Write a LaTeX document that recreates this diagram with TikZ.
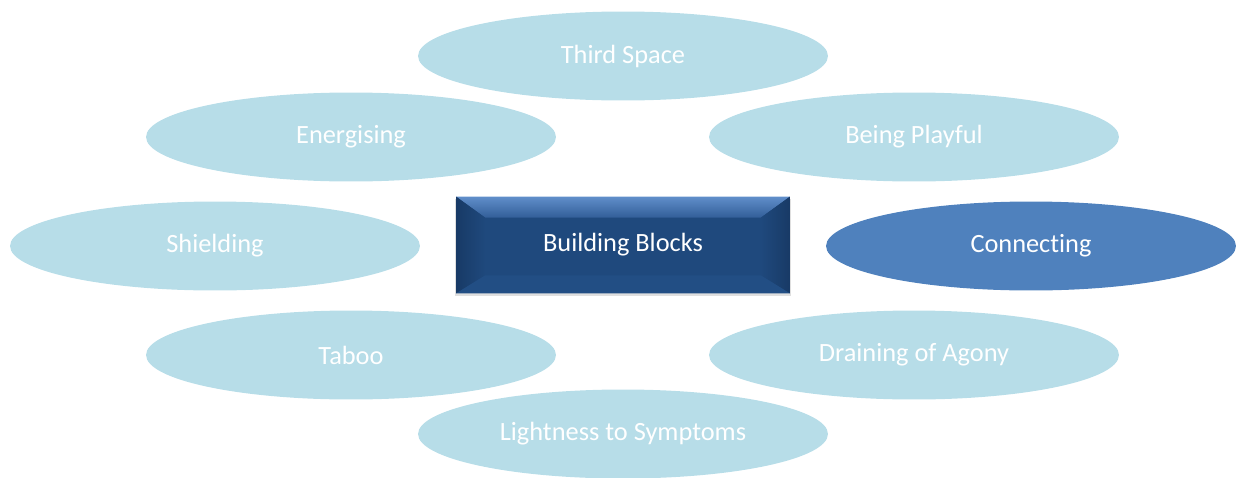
\documentclass[tikz,border=0pt]{standalone}
\usepackage{fontspec}
\setmainfont{Carlito}[Ligatures=NoCommon]
\usetikzlibrary{shapes.geometric,shadows,calc}
\definecolor{paleblue}{RGB}{183,221,232}
\definecolor{midblue}{RGB}{79,129,189}
\definecolor{deepblue}{RGB}{31,73,125}
\definecolor{bevellight}{RGB}{96,142,202}
\definecolor{bevelmid}{RGB}{50,94,152}
\definecolor{beveldark}{RGB}{24,58,102}
\definecolor{bevelbase}{RGB}{34,78,132}
\begin{document}
\begin{tikzpicture}[x=0.02cm, y=-0.02cm,
    block/.style={ellipse, fill=paleblue, minimum width=8.2cm, minimum height=1.78cm, text=white, font=\fontsize{15}{18}\selectfont},
    hub/.style={rectangle, fill=deepblue, minimum width=6.66cm, minimum height=1.92cm, text=white, font=\fontsize{15}{18}\selectfont,
        drop shadow={opacity=0.25, shadow xshift=0pt, shadow yshift=-1.5pt, shadow scale=1.01}}]
    \useasboundingbox (0, 0) rectangle (1237, 477);
    \node[block] (third) at (623, 56) {Third Space};
    \node[block] (energy) at (351, 137) {Energising};
    \node[block] (play) at (914, 137) {Being Playful};
    \node[block] (shield) at (215, 246) {Shielding};
    \node[block, fill=midblue] (connect) at (1031, 246) {Connecting};
    \node[block] (taboo) at (351, 355) {Taboo};
    \node[block] (agony) at (914, 355) {Draining of Agony};
    \node[block] (light) at (623, 434) {Lightness to Symptoms};
    \node[hub] (blocks) at (623, 245) {};
    % bevel
    \shade[top color=bevellight, bottom color=bevelmid]
        (blocks.north west) -- (blocks.north east) -- ++(-29, 21) -- ($(blocks.north west)+(29, 21)$) -- cycle;
    \shade[left color=beveldark, right color=deepblue]
        (blocks.north west) -- ++(29, 21) -- ($(blocks.south west)+(29, -18)$) -- (blocks.south west) -- cycle;
    \shade[right color=beveldark, left color=deepblue]
        (blocks.north east) -- ++(-29, 21) -- ($(blocks.south east)+(-29, -18)$) -- (blocks.south east) -- cycle;
    \fill[bevelbase]
        (blocks.south west) -- ++(29, -18) -- ($(blocks.south east)+(-29, -18)$) -- (blocks.south east) -- cycle;
    \node[text=white, font=\fontsize{15}{18}\selectfont] (label) at (blocks) {Building Blocks};
\end{tikzpicture}
\end{document}
